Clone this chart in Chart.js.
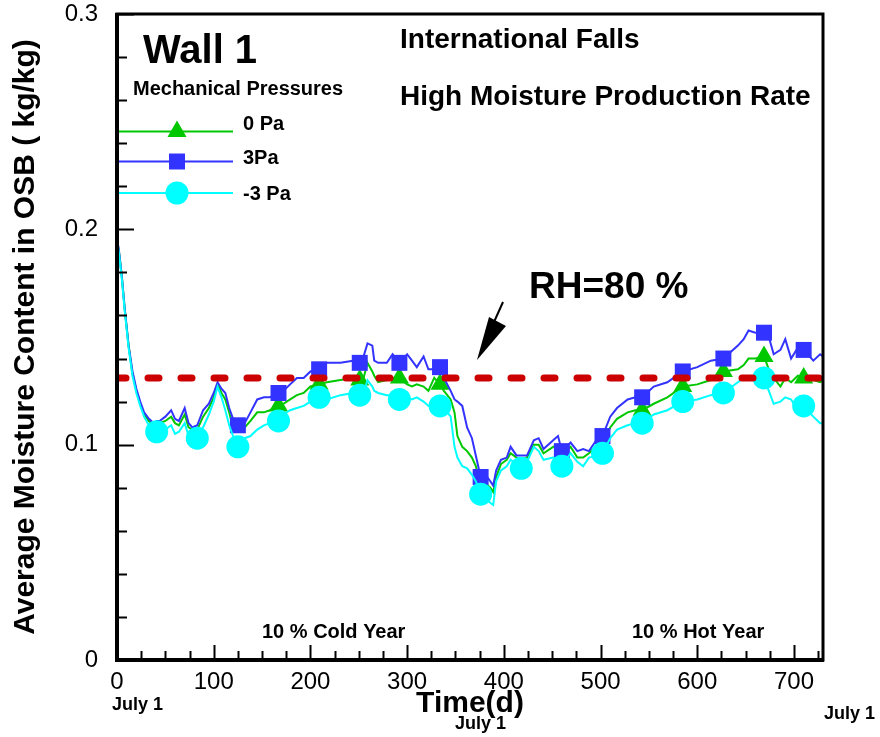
<!DOCTYPE html>
<html>
<head>
<meta charset="utf-8">
<script src="https://cdn.jsdelivr.net/npm/chart.js@4.4.1/dist/chart.umd.min.js"></script>
<style>
  html, body { margin: 0; padding: 0; background: #fff; }
  canvas { display: block; }
</style>
</head>
<body>
<canvas id="c" width="880" height="737"></canvas>
<script>
// time in days
var days = [
  0, 2, 5, 8, 12, 16, 20, 24, 28, 33,
  38, 41, 44, 50, 56, 60, 64, 70, 74, 78,
  83, 89, 95, 100, 104, 108, 112, 116, 120, 125,
  132, 138, 145, 152, 158, 167, 172, 179, 186, 193,
  200, 209, 217, 231, 244, 251, 255, 259, 264, 266,
  270, 279, 285, 292, 300, 305, 310, 317, 322, 328,
  334, 338, 345, 349, 352, 357, 362, 367, 371, 376,
  381, 386, 389, 392, 397, 403, 407, 413, 418, 424,
  431, 436, 441, 451, 456, 460, 469, 476, 482, 488,
  497, 502, 510, 517, 528, 536, 543, 555, 569, 585,
  600, 614, 627, 642, 648, 653, 660, 669, 674, 679,
  686, 691, 697, 704, 710, 720, 727, 730
];

// 0 Pa
var mc0Pa = [
  .195, .190, .178, .163, .146, .133, .125, .119, .114, .111,
  .109, .110, .110, .111, .113, .110, .109, .114, .108, .107,
  .107, .113, .117, .122, .128, .124, .121, .115, .108, .106,
  .108, .111, .115, .115, .116, .118, .119, .121, .123, .124,
  .127, .128, .129, .130, .131, .130, .131, .138, .134, .132,
  .129, .130, .131, .131, .128, .127, .128, .127, .125, .131,
  .128, .125, .121, .115, .104, .099, .097, .094, .090, .082,
  .082, .080, .078, .085, .091, .093, .096, .094, .093, .094,
  .100, .100, .096, .099, .100, .095, .099, .094, .094, .096,
  .100, .101, .108, .112, .115, .116, .116, .119, .122, .127,
  .128, .130, .134, .135, .137, .140, .140, .141, .135, .131,
  .127, .131, .129, .132, .131, .130, .129, .130
];

// 3 Pa
var mc3Pa = [
  .196, .190, .178, .163, .146, .134, .126, .120, .115, .112,
  .110, .111, .111, .113, .116, .112, .111, .117, .110, .108,
  .109, .116, .119, .124, .129, .126, .124, .117, .112, .109,
  .110, .115, .121, .122, .122, .124, .125, .128, .131, .131,
  .134, .135, .138, .138, .139, .138, .141, .147, .146, .139,
  .138, .138, .142, .138, .142, .139, .136, .141, .135, .135,
  .136, .131, .125, .121, .120, .118, .108, .103, .095, .085,
  .086, .083, .081, .088, .093, .094, .099, .095, .095, .095,
  .102, .103, .098, .102, .104, .097, .101, .097, .098, .097,
  .103, .104, .113, .117, .121, .122, .122, .127, .129, .134,
  .136, .139, .140, .146, .149, .153, .152, .152, .150, .142,
  .144, .149, .140, .145, .144, .139, .142, .141
];

// -3 Pa
var mcNeg3Pa = [
  .195, .189, .177, .162, .145, .132, .124, .118, .113, .109,
  .107, .106, .108, .107, .109, .105, .106, .110, .104, .105,
  .103, .108, .114, .120, .127, .122, .116, .109, .104, .099,
  .103, .104, .107, .109, .110, .111, .114, .116, .117, .118,
  .120, .122, .121, .123, .124, .123, .124, .130, .127, .125,
  .124, .123, .123, .121, .122, .121, .122, .120, .118, .119,
  .118, .117, .113, .099, .094, .090, .089, .086, .083, .077,
  .075, .073, .072, .083, .088, .090, .093, .091, .089, .092,
  .099, .097, .093, .094, .093, .090, .096, .092, .090, .094,
  .095, .096, .103, .107, .109, .110, .110, .114, .116, .120,
  .121, .123, .124, .129, .131, .131, .132, .131, .125, .119,
  .120, .122, .121, .116, .118, .113, .110, .110
];

// days where a symbol is drawn on each curve
var marks0Pa = [167, 209, 251, 292, 334, 543, 585, 627, 669, 710];
var marks3Pa = [125, 167, 209, 251, 292, 334, 376, 460, 502, 543, 585, 627, 669, 710];
var marksNeg3Pa = [41, 83, 125, 167, 209, 251, 292, 334, 376, 418, 460, 502, 543, 585, 627, 669, 710];

var rh80 = 0.131;           // RH = 80 % level
var rhSpan = [0, 730];

var xTickMajor = [0, 100, 200, 300, 400, 500, 600, 700];

var GREEN = '#00c800', BLUE = '#3333ff', CYAN = '#00ffff', RED = '#cc0000';
var SANS = '"Liberation Sans", Arial, sans-serif';

function pts(ys) {
  return days.map(function(d, i) { return { x: d, y: ys[i] }; });
}
function markRadius(list, r) {
  return function(ctx) { return list.indexOf(days[ctx.dataIndex]) >= 0 ? r : 0; };
}

// frame, inward ticks, annotations and legend
var decor = {
  id: 'decor',
  afterDraw: function(chart) {
    var c = chart.ctx, a = chart.chartArea;
    var xs = chart.scales.x, ys = chart.scales.y;
    c.save();
    c.strokeStyle = '#000';
    // ticks
    c.lineWidth = 2;
    for (var i = 0; i <= 15; i++) {
      var py = Math.round(ys.getPixelForValue(i * 0.02)) + 0.5;
      var len = i % 5 === 0 ? 17 : 10;
      c.beginPath(); c.moveTo(a.left, py); c.lineTo(a.left + len, py); c.stroke();
    }
    for (var d = 0; d <= 730; d += 25) {
      var px = Math.round(xs.getPixelForValue(d)) + 0.5;
      var l2 = d % 100 === 0 ? 15 : 9;
      c.beginPath(); c.moveTo(px, a.bottom); c.lineTo(px, a.bottom - l2); c.stroke();
    }
    // frame
    c.lineWidth = 3;
    c.strokeRect(a.left, a.top, a.right - a.left, a.bottom - a.top);
    c.lineWidth = 4;
    c.beginPath();
    c.moveTo(a.left, a.top - 1); c.lineTo(a.left, a.bottom); c.lineTo(a.right + 1, a.bottom);
    c.stroke();

    // texts
    c.fillStyle = '#000';
    c.textBaseline = 'alphabetic';
    c.textAlign = 'left';
    c.font = 'bold 40px ' + SANS;
    c.fillText('Wall 1', 143, 63);
    c.font = 'bold 20px ' + SANS;
    c.fillText('Mechanical Pressures', 133, 95);
    c.font = 'bold 28px ' + SANS;
    c.fillText('International Falls', 400, 48);
    c.fillText('High Moisture Production Rate', 400, 105);
    c.font = 'bold 37px ' + SANS;
    c.fillText('RH=80 %', 529, 298);
    c.font = 'bold 20px ' + SANS;
    c.fillText('10 % Cold Year', 262, 638);
    c.fillText('10 % Hot Year', 632, 638);
    c.font = 'bold 18px ' + SANS;
    c.fillText('July 1', 112, 710);
    c.fillText('July 1', 455, 729);
    c.fillText('July 1', 824, 719);

    // arrow
    c.lineWidth = 2;
    c.beginPath(); c.moveTo(503, 302); c.lineTo(494, 322); c.stroke();
    c.beginPath(); c.moveTo(489, 317); c.lineTo(506, 326); c.lineTo(477, 360); c.closePath(); c.fill();

    // legend
    var items = [
      { y: 131.5, ty: 130, color: GREEN, style: 'triangle', r: 11, label: '0 Pa' },
      { y: 161.5, ty: 164, color: BLUE, style: 'rect', r: 11.3, label: '3Pa' },
      { y: 193, ty: 200, color: CYAN, style: 'circle', r: 11.5, label: '-3 Pa' }
    ];
    items.forEach(function(it) {
      c.strokeStyle = it.color; c.fillStyle = it.color; c.lineWidth = 2;
      c.beginPath(); c.moveTo(119, it.y); c.lineTo(233, it.y); c.stroke();
      Chart.helpers.drawPoint(c, { pointStyle: it.style, radius: it.r, borderWidth: 0, rotation: 0 }, 177, it.y);
      c.fillStyle = '#000';
      c.font = 'bold 20px ' + SANS;
      c.fillText(it.label, 243, it.ty);
    });
    c.restore();
  }
};

var ctx = document.getElementById('c').getContext('2d');
new Chart(ctx, {
  type: 'line',
  data: {
    datasets: [
      {
        label: '0 Pa', data: pts(mc0Pa), order: 4,
        borderColor: GREEN, backgroundColor: GREEN, borderWidth: 2,
        pointStyle: 'triangle', pointRadius: markRadius(marks0Pa, 11), pointBorderWidth: 0
      },
      {
        label: '3Pa', data: pts(mc3Pa), order: 3,
        borderColor: BLUE, backgroundColor: BLUE, borderWidth: 2,
        pointStyle: 'rect', pointRadius: markRadius(marks3Pa, 11.3), pointBorderWidth: 0
      },
      {
        label: '-3 Pa', data: pts(mcNeg3Pa), order: 2,
        borderColor: CYAN, backgroundColor: CYAN, borderWidth: 2,
        pointStyle: 'circle', pointRadius: markRadius(marksNeg3Pa, 11.5), pointBorderWidth: 0
      },
      {
        label: 'RH=80 %', order: 1,
        data: rhSpan.map(function(d) { return { x: d, y: rh80 }; }),
        borderColor: RED, borderWidth: 7, borderDash: [11, 22], borderDashOffset: 2,
        borderCapStyle: 'round', pointRadius: 0
      }
    ]
  },
  options: {
    responsive: false,
    animation: false,
    layout: { padding: { top: 14, right: 57, left: 0, bottom: 0 } },
    scales: {
      x: {
        type: 'linear', min: 0, max: 730,
        afterFit: function(s) { s.height = 77; },
        grid: { display: false },
        border: { display: false },
        ticks: {
          stepSize: 100, includeBounds: false, padding: 0, color: '#000',
          font: { family: SANS, size: 24 },
          callback: function(v) { return xTickMajor.indexOf(v) >= 0 ? String(v) : ''; }
        },
        title: {
          display: true, text: 'Time(d)', color: '#000',
          font: { family: SANS, size: 30, weight: 'bold' },
          padding: { top: 0, bottom: 15 }
        }
      },
      y: {
        min: 0, max: 0.3,
        afterFit: function(s) { s.width = 117; },
        grid: { display: false },
        border: { display: false },
        ticks: {
          stepSize: 0.1, padding: 11, color: '#000',
          font: { family: SANS, size: 24, lineHeight: 0.2 },
          callback: function(v) {
            var r = Math.round(v * 10) / 10;
            return r === 0 ? '0' : r.toFixed(1);
          }
        },
        title: {
          display: true, text: 'Average Moisture Content in OSB ( kg/kg)', color: '#000',
          font: { family: SANS, size: 30, weight: 'bold' },
          padding: { top: 8, bottom: 0 }
        }
      }
    },
    plugins: {
      legend: { display: false },
      tooltip: { enabled: false }
    }
  },
  plugins: [decor]
});
</script>
</body>
</html>
